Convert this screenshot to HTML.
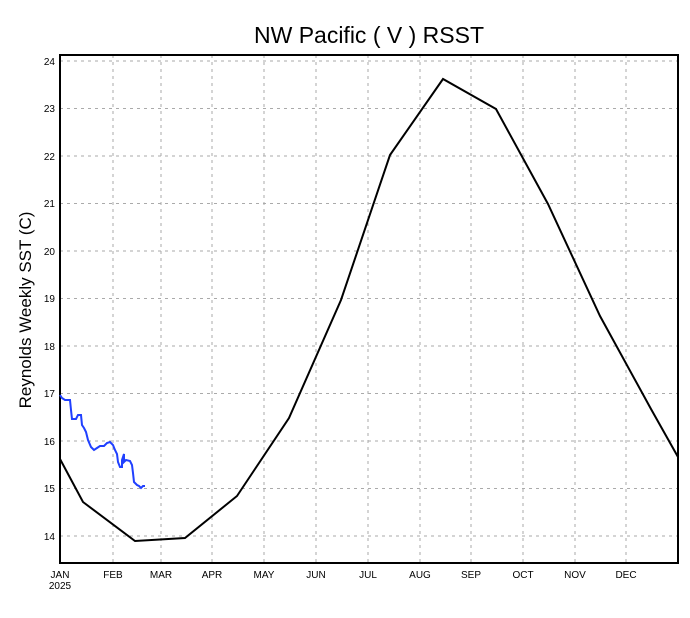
<!DOCTYPE html>
<html><head><style>body{margin:0;background:#fff}svg{display:block}text{font-family:"Liberation Sans","DejaVu Sans",sans-serif}</style></head>
<body>
<svg width="690" height="618" viewBox="0 0 690 618" xmlns="http://www.w3.org/2000/svg">
<rect width="690" height="618" fill="#fff"/>
<text x="369" y="43" font-size="23" text-anchor="middle">NW Pacific ( V ) RSST</text>
<text transform="translate(31,310) rotate(-90)" font-size="17" text-anchor="middle">Reynolds Weekly SST (C)</text>
<g stroke="#aaa" stroke-width="1" stroke-dasharray="3,4">
<line x1="60" x2="678" y1="61" y2="61"/><line x1="60" x2="678" y1="108.5" y2="108.5"/><line x1="60" x2="678" y1="156" y2="156"/><line x1="60" x2="678" y1="203.5" y2="203.5"/><line x1="60" x2="678" y1="251" y2="251"/><line x1="60" x2="678" y1="298.5" y2="298.5"/><line x1="60" x2="678" y1="346" y2="346"/><line x1="60" x2="678" y1="393.5" y2="393.5"/><line x1="60" x2="678" y1="441" y2="441"/><line x1="60" x2="678" y1="488.5" y2="488.5"/><line x1="60" x2="678" y1="536" y2="536"/>
<line y1="55" y2="563" x1="113" x2="113"/><line y1="55" y2="563" x1="161" x2="161"/><line y1="55" y2="563" x1="212" x2="212"/><line y1="55" y2="563" x1="264" x2="264"/><line y1="55" y2="563" x1="316" x2="316"/><line y1="55" y2="563" x1="368" x2="368"/><line y1="55" y2="563" x1="420" x2="420"/><line y1="55" y2="563" x1="471" x2="471"/><line y1="55" y2="563" x1="523" x2="523"/><line y1="55" y2="563" x1="575" x2="575"/><line y1="55" y2="563" x1="626" x2="626"/>
</g>
<rect x="60" y="55" width="618" height="508" fill="none" stroke="#000" stroke-width="2"/>
<g font-size="10" text-anchor="end">
<text x="55" y="65">24</text><text x="55" y="112">23</text><text x="55" y="160">22</text><text x="55" y="207">21</text><text x="55" y="255">20</text><text x="55" y="302">19</text><text x="55" y="350">18</text><text x="55" y="397">17</text><text x="55" y="445">16</text><text x="55" y="492">15</text><text x="55" y="540">14</text>
</g>
<g font-size="10" text-anchor="middle">
<text x="60" y="578">JAN</text><text x="60" y="589">2025</text><text x="113" y="578">FEB</text><text x="161" y="578">MAR</text><text x="212" y="578">APR</text><text x="264" y="578">MAY</text><text x="316" y="578">JUN</text><text x="368" y="578">JUL</text><text x="420" y="578">AUG</text><text x="471" y="578">SEP</text><text x="523" y="578">OCT</text><text x="575" y="578">NOV</text><text x="626" y="578">DEC</text>
</g>
<polyline fill="none" stroke="#000" stroke-width="2" points="60,459 83,502 135,541 185,538 237,496 289,418 341,300 390,155 443,79 496,109 548,204 600,316 651,409 678,457"/>
<polyline fill="none" stroke="#2040ff" stroke-width="2" points="60,395 62,398 65,400 70,400 71,410 72,419 76,419 78,415 81,415 82,425 84,428 86,432 88,440 91,447 94,450 97,448 100,446 104,446 107,443 110,442 113,445 115,450 117,454 118,462 120,467 122,467 122,460 124,454 124,462 126,460 130,461 132,465 133,473 134,482 136,484 137,485 139,486 141,488 143,486 145,486"/>
</svg>
</body></html>
